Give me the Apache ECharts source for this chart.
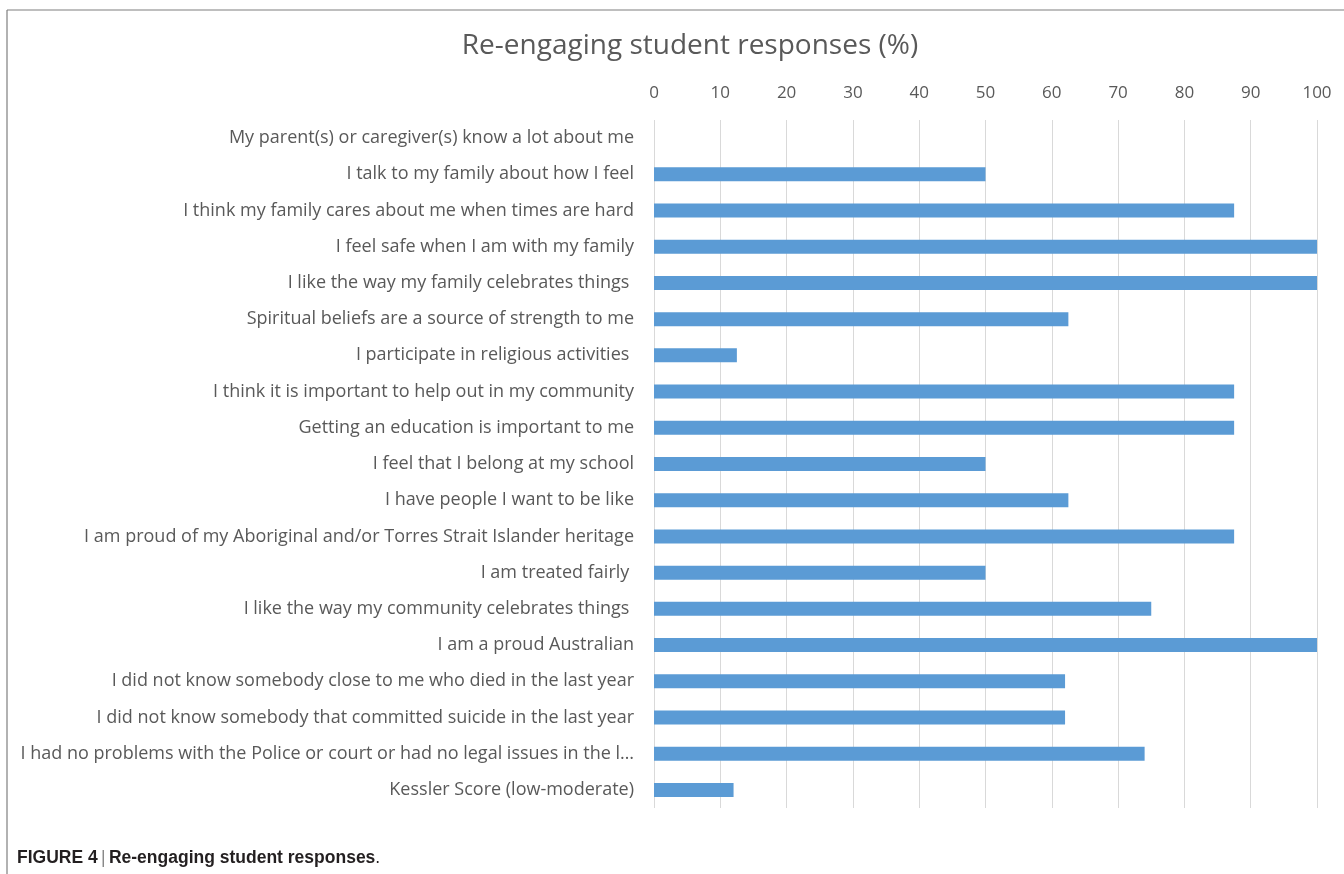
<!DOCTYPE html>
<html>
<head>
<meta charset="utf-8">
<script src="https://cdn.jsdelivr.net/npm/echarts@6/dist/echarts.min.js"></script>
<style>
  html, body { margin: 0; padding: 0; background: #fff; }
  #chart { width: 1344px; height: 874px; }
</style>
</head>
<body>
<div id="chart"></div>
<script>
// categories top -> bottom
const categories = [
  'My parent(s) or caregiver(s) know a lot about me',
  'I talk to my family about how I feel',
  'I think my family cares about me when times are hard',
  'I feel safe when I am with my family',
  'I like the way my family celebrates things ',
  'Spiritual beliefs are a source of strength to me',
  'I participate in religious activities ',
  'I think it is important to help out in my community',
  'Getting an education is important to me',
  'I feel that I belong at my school',
  'I have people I want to be like',
  'I am proud of my Aboriginal and/or Torres Strait Islander heritage',
  'I am treated fairly ',
  'I like the way my community celebrates things ',
  'I am a proud Australian',
  'I did not know somebody close to me who died in the last year',
  'I did not know somebody that committed suicide in the last year',
  'I had no problems with the Police or court or had no legal issues in the last year',
  'Kessler Score (low-moderate)'
]
const percents = [0, 50, 87.5, 100, 100, 62.5, 12.5, 87.5, 87.5, 50, 62.5, 87.5, 50, 75, 100, 62, 62, 74, 12]

const titleText = 'Re-engaging student responses (%)'
const font = '"Open Sans", "Noto Sans", sans-serif'
const grey = '#595959'

const chart = echarts.init(document.getElementById('chart'))

chart.setOption({
  animation: false,
  title: {
    text: titleText,
    left: 685,
    textAlign: 'center',
    top: 27,
    textStyle: { fontFamily: font, fontSize: 28, fontWeight: 'normal', color: grey }
  },
  grid: { left: 654, right: 27, top: 120, bottom: 66 },
  xAxis: {
    type: 'value',
    position: 'top',
    min: 0,
    max: 100,
    interval: 10,
    axisLine: { show: false },
    axisTick: { show: false },
    axisLabel: { fontFamily: font, fontSize: 17, color: grey, margin: 18 },
    splitLine: { lineStyle: { color: '#d9d9d9', width: 1 } }
  },
  yAxis: {
    type: 'category',
    inverse: true,
    data: categories,
    axisLine: { show: false },
    axisTick: { show: false },
    axisLabel: {
      fontFamily: font,
      fontSize: 18,
      color: grey,
      margin: 20,
      width: 622,
      overflow: 'truncate',
      ellipsis: '…'
    }
  },
  series: [{
    type: 'bar',
    data: percents,
    barWidth: 14,
    itemStyle: { color: '#5b9bd5' }
  }],
  graphic: [
    { type: 'line', shape: { x1: 7, y1: 10, x2: 1344, y2: 10 }, style: { stroke: '#7f7f7f', lineWidth: 1.2 } },
    { type: 'line', shape: { x1: 7, y1: 10, x2: 7, y2: 874 }, style: { stroke: '#7f7f7f', lineWidth: 1.2 } },
    {
      type: 'text',
      left: 17,
      top: 849,
      style: {
        text: '{b|FIGURE 4} {s||} {b|Re-engaging student responses}{n|.}',
        rich: {
          b: { fontFamily: '"Liberation Sans Narrow", "Liberation Sans", Arial, sans-serif', fontSize: 17.5, fontWeight: 'bold', fill: '#231f20' },
          s: { fontFamily: '"Liberation Sans", sans-serif', fontSize: 17.5, fill: '#888' },
          n: { fontFamily: '"Liberation Sans Narrow", "Liberation Sans", sans-serif', fontSize: 17.5, fill: '#231f20' }
        }
      }
    }
  ]
})
</script>
</body>
</html>
